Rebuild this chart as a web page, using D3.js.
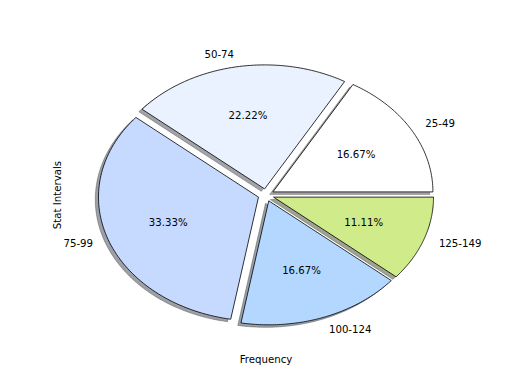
<!DOCTYPE html>
<html><head><meta charset="utf-8">
<script src="https://cdn.jsdelivr.net/npm/d3@7"></script>
<style>body{margin:0;background:#fff}svg{display:block}text{font-family:"DejaVu Sans",sans-serif;fill:#000}</style>
</head><body>
<svg id="c" width="520" height="390"></svg>
<script>
const categories = ["25-49", "50-74", "75-99", "100-124", "125-149"];
const counts = [3, 4, 6, 3, 2];
const colors = ["#ffffff", "#eaf1ff", "#c6d9ff", "#b3d7ff", "#d0eb8a"];
const explode = [0.05, 0.05, 0.05, 0.05, 0.05];
const xLabel = "Frequency";
const yLabel = "Stat Intervals";

const svg = d3.select("#c");
const x = d3.scaleLinear().domain([-1.25, 1.25]).range([66, 466]);
const y = d3.scaleLinear().domain([-1.25, 1.25]).range([350, 40]);
const total = d3.sum(counts);
const pie = d3.pie().sort(null).startAngle(0).endAngle(2 * Math.PI);
const arcs = pie(counts);

function wedgePath(a, ox, oy) {
  const n = 80, pts = [[ox, oy]];
  for (let i = 0; i <= n; i++) {
    const t = a.startAngle + (a.endAngle - a.startAngle) * i / n;
    pts.push([ox + Math.cos(t), oy + Math.sin(t)]);
  }
  return d3.line().x(p => x(p[0])).y(p => y(p[1]))(pts) + "Z";
}

const info = arcs.map((a, i) => {
  const m = (a.startAngle + a.endAngle) / 2;
  return {a, i, m, ox: explode[i] * Math.cos(m), oy: explode[i] * Math.sin(m)};
});

const gS = svg.append("g"), gW = svg.append("g"), gT = svg.append("g");
info.forEach(d => {
  const c = d3.rgb(colors[d.i]);
  const sc = d3.rgb(c.r * 0.3, c.g * 0.3, c.b * 0.3);
  gS.append("path").attr("d", wedgePath(d.a, d.ox - 0.02, d.oy - 0.02))
    .attr("fill", sc).attr("fill-opacity", 0.5).attr("stroke", sc).attr("stroke-opacity", 0.5)
    .attr("stroke-width", 0.8);
  gW.append("path").attr("d", wedgePath(d.a, d.ox, d.oy))
    .attr("fill", colors[d.i]).attr("stroke", "#000").attr("stroke-width", 0.8)
    .attr("stroke-linejoin", "miter");
  const lx = d.ox + 1.1 * Math.cos(d.m), ly = d.oy + 1.1 * Math.sin(d.m);
  gT.append("text").attr("x", x(lx)).attr("y", y(ly)).attr("dy", "0.35em")
    .attr("text-anchor", Math.cos(d.m) > 0 ? "start" : "end")
    .attr("font-size", 10.2).text(categories[d.i]);
  const px = d.ox + 0.6 * Math.cos(d.m), py = d.oy + 0.6 * Math.sin(d.m);
  gT.append("text").attr("x", x(px)).attr("y", y(py)).attr("dy", "0.35em")
    .attr("text-anchor", "middle").attr("font-size", 10.2)
    .text((counts[d.i] / total * 100).toFixed(2) + "%");
});

svg.append("text").attr("x", x(0)).attr("y", 359).attr("dy", "0.35em")
  .attr("text-anchor", "middle").attr("font-size", 10.2).text(xLabel);
svg.append("text").attr("transform", `translate(57,${y(0)}) rotate(-90)`)
  .attr("dy", "0.35em").attr("text-anchor", "middle").attr("font-size", 10.2).text(yLabel);
</script>
</body></html>
